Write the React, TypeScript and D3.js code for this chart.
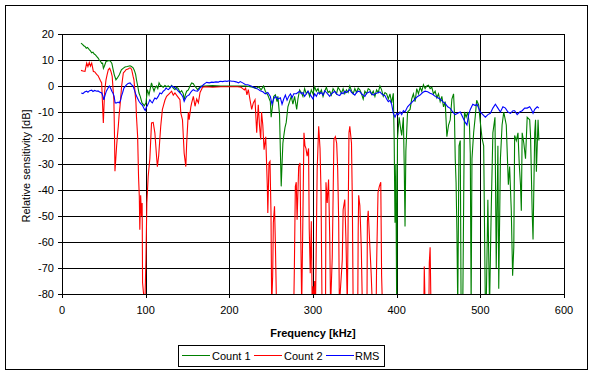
import React from "react";
import * as d3 from "d3";

// ---- Data (frequency kHz, relative sensitivity dB) ----
const xTicks = [0, 100, 200, 300, 400, 500, 600];
const yTicks = [20, 10, 0, -10, -20, -30, -40, -50, -60, -70, -80];

const count1: [number, number][] = [
  [22.7,16.5],[24.5,16],[26,15.5],[27.5,15.2],[29,14.5],[30.5,14.8],[32.6,14],[34,13.5],[35.5,12.8],[37,13],[38.5,12.3],[40,12],[41.4,11.4],[43,10.8],[44.6,10],[46,9.5],[47.4,8.7],[48.5,8.8],[49.5,6.8],[50.5,7.5],[52.6,9.4],[54.5,9.6],[56.6,9.8],[58,9.5],[59.6,8.7],[61,6.5],[62.5,4.3],[64.5,2.4],[66,3],[68.5,4.3],[71,6.2],[73,6.8],[75.3,7.3],[78,7.5],[81.3,7.8],[83,7.5],[85,7],[86.5,6],[88,4.5],[89,2.4],[90.5,0],[92,-2.7],[93.5,-4],[95.6,-6.5],[97,-7],[98.4,-7.6],
  [100.4,-6.5],[102,-1.4],[104,-3.4],[105.5,-1],[107,1.2],[108.5,-0.5],[110,-2],[111.5,-0.5],[113,0],[114.5,-1],[116,1.2],[117.5,0.3],[119,0],[121,-0.5],[123,0.2],[125,-0.3],[127,0],[129,-0.5],[131,0.2],[133,-0.8],[135,-1.4],[137,-0.5],[139,-1],[141,-2.5],[143,-1.8],[145,-3],[146,-5.3],[147.5,-3.3],[149,-2],[151,-1.5],[153,0],[155,1.2],[157,0.9],[158,0.3],[160,-0.5],[162,-1.4],[164,-0.7],[166,0],[170,0],[180,0.2],[190,0],[200,0],[210,0],[220,0],[228,-0.5],[232,-1],[235,-0.3],[238,-1.5],[241,0],[243,-2],[246,-3.5],[249,-6],[250,-12],[251.5,-8],[253,-4],[255,-3.4],[257,-6],[258,-4],[260,-11],[261,-25],[262,-38.6],[263,-30],[264,-22],[265,-19.4],[266.5,-16],[268,-14],[270,-8],[272,-6],[274,-4],[276,-7],[278,-4],[280.5,-9],[282,-5],[284,-1.5],[286,-2.5],[288,-4],[290,-1],[292,-3],[294,-2],[296,-4],[298,-1.5],[300,-3],[302,-0.3],[304,-2],[306,-1],[308,-3],[310,-1.5],[312,-4],[314,-2],[316,-0.5],[318,-2.5],[320,-2],[322,-3.5],[324,-1],[326,-2],[328,-3],[330,-0.5],[332,-1.5],[334,-2.8],[336,-1],[338,-3],[340,-1.5],[342,-2.5],[344,0],[346,-1.8],[348,-3],[350,-1],[352,-2.5],[354,-0.8],[356,-1.5],[358,-3],[360,-5],[362,-2],[364,-3],[366,-1],[368,-1.5],[370,-3.2],[372,-2],[374,-4],[376,-1.5],[378,-2.5],[380,0],[382,-1.5],[384,-4],[386,-2.5],[388,-3],[390,-5],[392,-3],[394,-6.5],[396,-2.8],[397,-20],[398,-52.6],[399,-30],[400,-85],[401,-20],[403,-12],[405,-17],[406,-19],[408,-12],[409,-30],[410,-54],[411,-25],[413,-10],[416,-9],[418,-5],[420,-3],[422,-6],[424,-1],[426,-3],[428,-0.5],[430,-2],[432,0.5],[434,-1],[436,0],[438,0.3],[440,-1],[442,-0.5],[444,-3],[446,-2],[448,-4.5],[450,-3],[452,-6],[454,-4],[456,-8],[458,-6],[460,-19.5],[462,-15],[464,-13],[466,-5],[468,-3],[469,-10],[470,-28],[471,-37],[472,-56],[473,-85],[474.5,-23],[476,-21],[477,-85],[479,-85],[481,-10],[483,-12],[485,-10],[487,-15],[488,-26],[489,-85],[490,-28],[492,-18],[494,-11.5],[495.6,-5.5],[498,-7.3],[500,-14],[502,-20],[504,-23],[506,-85],[507,-85],[509,-43.8],[511,-85],[513,-48],[515,-18],[517.5,-12],[519,-70],[521,-23],[522,-78],[524,-28],[526,-15],[528,-10],[531,-15],[533.5,-38],[535,-31],[537,-48],[538.6,-73],[540,-62],[541,-19],[543,-21],[545,-18],[546.5,-30],[548,-38],[549,-48],[550,-18],[552,-22],[554,-28],[556,-12],[559,-13],[560,-19],[562,-49],[563,-59],[565,-18],[566,-13],[567,-33],[569,-13],[570,-21]
];

const count2: [number, number][] = [
  [22.7,6],[25,5.8],[27.5,5.6],[29.5,8.8],[31,7.5],[32.6,9],[34,7.6],[35.5,8.8],[37.5,5.6],[39,5.5],[41.4,4.5],[43,4],[44.6,3],[46,2],[47.4,1.2],[48.4,-6.5],[49.4,-14.2],[50.2,-7.8],[51,-2],[52.6,2.4],[54,4.5],[55.4,6.3],[57,6.8],[58.5,5.6],[60,3.7],[61,-1],[62,-5.3],[62.8,-20],[63.3,-32.8],[64.3,-28],[65.3,-23],[66.3,-19],[67.3,-15.5],[68.3,-11],[69.3,-7.8],[70.3,-4],[71.3,0],[73.3,5],[75,5.6],[76.5,6.3],[79,6.5],[80.5,6.9],[82,6.9],[83.3,6.3],[85,3.7],[86,2.4],[87,-1.4],[88.4,-6.5],[89,-11.7],[90.4,-19.4],[91.5,-35],[92.4,-42.5],[93,-55.3],[94,-42],[95,-50],[95.8,-45],[96.3,-75.7],[97.5,-80],[99,-85],[100.3,-66.8],[101.4,-45],[103,-34.8],[105,-28],[107,-14.2],[109,-14],[111,-18],[113,-27],[114,-31],[115.5,-27],[118,-15.5],[120,-9],[121,-7.8],[123,-5.5],[125,-4],[128,-3],[131,-2],[133,-3.5],[135,-2.7],[138,-4],[141,-5.3],[142,-10.4],[144,-13],[146,-25.8],[148,-31],[149,-22],[151,-10],[152,-13],[154,-8],[155,-6.5],[157,-4],[159,-7.8],[161,-5],[163,-6.5],[165,-2.5],[168,-0.5],[172,-0.3],[180,-0.5],[190,-0.3],[200,-0.3],[210,-0.3],[214,-0.5],[216,-1],[218,-1.5],[219.5,-0.8],[221,-3.4],[222.7,-1.4],[224.7,-5.3],[226.7,-9],[228.7,-6.5],[230.7,-5.3],[232.7,-18],[234.6,-7.2],[236,-15],[237.5,-20.6],[238.5,-10],[240,-15],[241.5,-24.5],[243.5,-19.5],[245.4,-38.6],[246,-48.8],[247.4,-29.6],[248.6,-29],[249.8,-48.8],[250.6,-85],[251.8,-73],[252.6,-52.6],[254,-46.3],[255,-60],[256.4,-85],[266,-95],[277,-85],[277.7,-70.7],[278.9,-38.6],[280,-37],[281,-51.4],[282.9,-31],[284.5,-29.6],[285.3,-55],[286.5,-85],[288,-48.8],[289.2,-18],[290.4,-23],[291.6,-24],[293,-27],[294.7,-24],[295.5,-55],[296.7,-72],[298,-52],[299,-85],[300,-77],[301,-85],[302,-75],[303,-85],[305,-32],[306.8,-15.5],[308.4,-24],[309.6,-41],[310.8,-85],[313,-90],[315,-85],[315.5,-37],[317,-45],[318.6,-36],[320,-58],[321,-85],[323,-66],[325,-20.6],[326.7,-19.5],[328.3,-22],[329.5,-32],[330.7,-52],[331.5,-85],[333,-77],[335,-67],[336,-47.6],[338,-43.7],[339.5,-60.5],[341,-85],[343,-18],[344,-15.5],[346,-22],[347,-43.7],[348,-85],[351,-90],[353.5,-85],[354,-56],[354.6,-42],[356,-46],[357.7,-62],[359,-85],[362,-90],[364.5,-85],[365,-52],[366,-48],[368,-62],[369.5,-72],[371,-85],[374,-90],[375.5,-85],[376,-69],[377.7,-41],[379.3,-38.6],[381,-37],[382,-73],[383,-85],[400,-95],[432.5,-85],[433,-69.4],[434,-85],[436,-95],[438.5,-85],[439,-68],[440,-62],[441,-85],[445,-95]
];

const rms: [number, number][] = [
  [23,-2.7],[25,-2.9],[27,-2.3],[29.5,-2],[31,-2.4],[33,-1.8],[35.5,-1.6],[37,-2.1],[39,-1.7],[41.5,-2],[43,-1.9],[45,-2.3],[47.5,-2.7],[49,-4],[50,-5.3],[51.5,-3.5],[53,-2],[55,-0.8],[56.6,0],[58,-0.8],[59.6,-2],[61,-2.8],[62.3,-4],[63.5,-6.5],[65.3,-6.5],[67,-6.2],[68.5,-6.5],[70,-5.5],[71,-4],[72.5,-2.5],[74,-0.8],[77,0.4],[79,1],[81.3,1.2],[83,0.5],[85,0],[86.5,-1.5],[88.4,-3.4],[90,-4.5],[92,-5.9],[94,-6.8],[95.6,-7.2],[97,-8],[98.4,-8.9],[99.5,-9.4],[101,-8],[102,-7.6],[103.5,-6.5],[105,-5.3],[106.5,-6],[108,-6.5],[109.5,-5.5],[111,-4.6],[113,-5],[115,-4],[117,-2.7],[119,-3],[121,-2],[123,-1.5],[124.3,-0.8],[126,-1.2],[127,-1.4],[129,-0.8],[131,0],[133,-0.3],[135,-0.7],[137,-1.2],[139,-2],[141,-2.6],[143,-3.4],[144.5,-4.2],[146,-5.9],[147.5,-4.8],[149,-4],[150.5,-3.7],[152,-3.4],[153.5,-2.6],[155,-2],[157,-1.4],[159,-1.8],[162,-2],[164,-1.2],[165,-0.7],[167,-0.2],[169,0.5],[171,1],[173,1.4],[176,1.2],[179,1.5],[181,1.4],[184,1.6],[187,1.5],[189,1.8],[192,1.7],[195,1.9],[197,1.8],[200,2],[203,1.8],[205,1.8],[208,1.6],[211,1.2],[213,1.7],[216,1.2],[219,0.6],[222,0.5],[226,0],[229,-0.5],[231,-0.7],[234,-1.2],[237,-1.8],[240,-2.2],[243,-3],[246,-2.5],[249,-4],[251,-7],[253,-5],[255,-4],[258,-5],[261,-4.5],[263,-7],[265,-5],[267,-3.5],[269,-5.5],[271,-4],[273,-3],[275,-4.5],[277,-3],[280,-3],[282,-2.5],[284,-2],[286,-3],[288,-2.5],[290,-4],[292,-3],[294,-2],[296,-3],[298,-4],[300,-5],[302,-3],[304,-4],[306,-2.5],[308,-3],[310,-2.5],[312,-3.5],[314,-1.8],[316,-2.5],[318,-3.2],[320,-4],[322,-3],[324,-2.5],[326,-2],[328,-3],[330,-3.5],[332,-3.7],[334,-2.5],[336,-3],[338,-2],[340,-2.5],[342,-2],[344,-1.4],[346,-2.5],[348,-3],[350,-3.5],[352,-2.5],[354,-2],[356,-2.2],[358,-3],[360,-3.5],[362,-4],[364,-2.8],[366,-2.5],[368,-2.2],[370,-3],[372,-3.5],[374,-3],[376,-2.8],[378,-2.5],[380,-2.3],[382,-3],[384,-3.5],[386,-3.7],[388,-5],[390,-6],[392,-5.5],[394,-7],[396,-10.5],[398,-12],[400,-10.5],[402,-11],[404,-10],[406,-11],[408,-9.5],[410,-10],[413,-8],[416,-7],[419,-6],[422,-5],[425,-4],[428,-3.5],[431,-2.5],[434,-2],[437,-2.2],[440,-2.8],[443,-3.2],[446,-4],[449,-4.5],[452,-5],[455,-6],[458,-6.7],[461,-8],[464,-8.6],[467,-10],[470,-11],[473,-10.5],[476,-10],[479,-12],[482,-14],[484,-15],[486,-11],[488,-9],[491,-7],[494,-7.5],[496,-7],[498,-8.5],[500,-10],[503,-11],[506,-12],[509,-11],[512,-10.5],[515,-8.5],[518,-7],[521,-8.5],[524,-10],[527,-8],[530,-8.5],[533,-10],[536,-10.5],[539,-9.5],[541,-9.5],[544,-11],[547,-10],[550,-9.5],[553,-8.5],[556,-8.5],[559,-8],[561,-9],[563,-10.5],[565,-9],[568,-8],[570,-8.5]
];

const seriesNames = ["Count 1", "Count 2", "RMS"];
const seriesColors = ["#008000", "#FF0000", "#0000FF"];
const seriesData = [count1, count2, rms];

const W = 594;
const H = 375;
const PL = 62, PR = 564, PT = 34, PB = 294;
const FONT = "'Liberation Sans', Arial, sans-serif";

export default function App() {
  const x = d3.scaleLinear().domain([0, 600]).range([PL, PR]);
  const y = d3.scaleLinear().domain([-80, 20]).range([PB, PT]);
  const line = d3
    .line<[number, number]>()
    .x((d) => x(d[0]))
    .y((d) => y(d[1]));
  const px = (v: number) => Math.round(v) + 0.5;

  const legendX = 178, legendY = 345, legendW = 206, legendH = 21;
  const legendItems = [
    { lx: 182, tx: 212 },
    { lx: 254, tx: 284 },
    { lx: 326, tx: 355 },
  ];

  return (
    <svg
      width={W}
      height={H}
      style={{ position: "absolute", left: 0, top: 0, background: "#fff" }}
      fontFamily={FONT}
    >
      <defs>
        <clipPath id="plotClip">
          <rect x={PL} y={PT} width={PR - PL} height={PB - PT} />
        </clipPath>
      </defs>
      <rect x={0} y={0} width={W} height={H} fill="#fff" />
      {/* chart frame */}
      <rect x={5.5} y={5.5} width={582} height={364} fill="none" stroke="#000" strokeWidth={1} />

      {/* gridlines */}
      <g shapeRendering="crispEdges" stroke="#000" strokeWidth={1}>
        {yTicks.map((t) => (
          <line key={"gy" + t} x1={PL - 4} x2={PR} y1={px(y(t))} y2={px(y(t))} />
        ))}
        {xTicks.map((t) => (
          <line key={"gx" + t} x1={px(x(t))} x2={px(x(t))} y1={PT} y2={PB + 4} />
        ))}
        <rect x={px(PL)} y={px(PT)} width={Math.round(PR - PL)} height={Math.round(PB - PT)} fill="none" />
      </g>

      {/* series */}
      <g clipPath="url(#plotClip)">
        {seriesData.map((s, i) => (
          <path
            key={seriesNames[i]}
            d={line(s) || ""}
            fill="none"
            stroke={seriesColors[i]}
            strokeWidth={1.1}
            strokeLinejoin="miter"
          />
        ))}
      </g>

      {/* y tick labels */}
      {yTicks.map((t) => (
        <text key={"ly" + t} x={54} y={y(t) + 4} fontSize={11} textAnchor="end" fill="#000">
          {t}
        </text>
      ))}
      {/* x tick labels */}
      {xTicks.map((t) => (
        <text key={"lx" + t} x={x(t)} y={313.5} fontSize={11} textAnchor="middle" fill="#000">
          {t}
        </text>
      ))}

      {/* axis titles */}
      <text x={313} y={337} fontSize={11} fontWeight="bold" textAnchor="middle" fill="#000">
        Frequency [kHz]
      </text>
      <text
        transform={`translate(30,166) rotate(-90)`}
        fontSize={11}
        textAnchor="middle"
        fill="#000"
      >
        Relative sensitivity [dB]
      </text>

      {/* legend */}
      <rect x={legendX + 0.5} y={legendY + 0.5} width={legendW} height={legendH} fill="#fff" stroke="#000" strokeWidth={1} />
      {legendItems.map((it, i) => (
        <g key={"leg" + i}>
          <line x1={it.lx} x2={it.lx + 28} y1={355.5} y2={355.5} stroke={seriesColors[i]} strokeWidth={1} />
          <text x={it.tx} y={359.5} fontSize={11} fill="#000">
            {seriesNames[i]}
          </text>
        </g>
      ))}
    </svg>
  );
}
